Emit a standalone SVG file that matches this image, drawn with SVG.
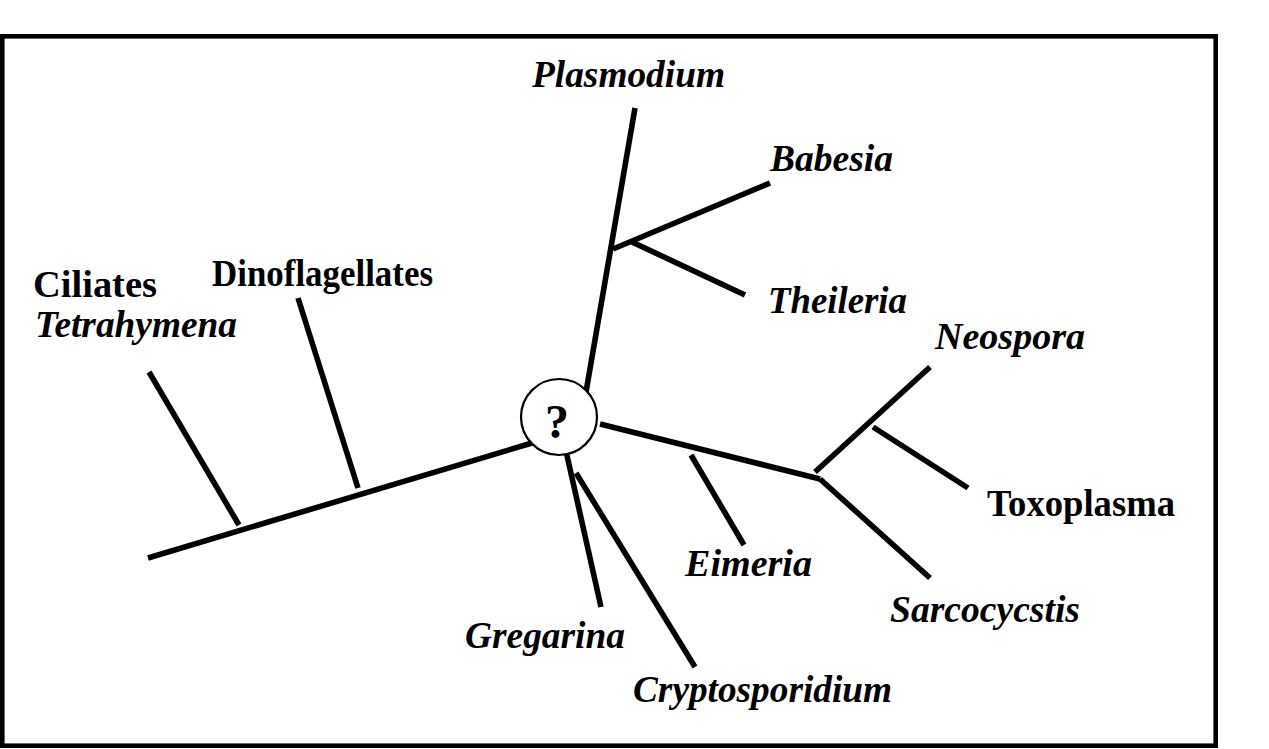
<svg xmlns="http://www.w3.org/2000/svg" width="1269" height="749" viewBox="0 0 1269 749">
<style>
.b{stroke:#000;stroke-width:5.6;fill:none;stroke-linecap:butt}
.t{font-family:"Liberation Serif","Times New Roman",serif;font-size:37px;font-weight:bold;fill:#000}
.i{font-style:italic}
.q{font-size:48px}
</style>
<rect x="0" y="0" width="1269" height="749" fill="#fff"/>
<rect id="frame" x="2.3" y="36.3" width="1213.4" height="709.4" fill="none" stroke="#000" stroke-width="4.6"/>
<g id="connectors">
<line class="b" x1="148" y1="558" x2="532" y2="443"/>
<line class="b" x1="149" y1="372" x2="239" y2="525"/>
<line class="b" x1="298" y1="298" x2="358" y2="488"/>
<line class="b" x1="635" y1="108" x2="586" y2="392"/>
<line class="b" x1="613" y1="249" x2="770" y2="183"/>
<line class="b" x1="632" y1="242" x2="745" y2="295"/>
<line class="b" x1="600" y1="424" x2="820" y2="479"/>
<line class="b" x1="691" y1="455" x2="744" y2="545"/>
<line class="b" x1="815" y1="472" x2="930" y2="367"/>
<line class="b" x1="873" y1="427" x2="968" y2="488"/>
<line class="b" x1="820" y1="479" x2="930" y2="578"/>
<line class="b" x1="566" y1="451" x2="601" y2="607"/>
<line class="b" x1="576" y1="473" x2="695" y2="667"/>
</g>
<g id="root">
<circle cx="559" cy="417" r="38" fill="#fff" stroke="#000" stroke-width="2.2"/>
<text class="t q" x="557" y="438" text-anchor="middle">?</text>
</g>
<g id="ciliates"><text class="t" x="33" y="297" textLength="124" lengthAdjust="spacingAndGlyphs">Ciliates</text>
<text class="t i" x="35" y="337" textLength="202" lengthAdjust="spacingAndGlyphs">Tetrahymena</text></g>
<g id="dinoflagellates"><text class="t" x="212" y="286" textLength="221" lengthAdjust="spacingAndGlyphs">Dinoflagellates</text></g>
<g id="plasmodium"><text class="t i" x="532" y="87" textLength="193" lengthAdjust="spacingAndGlyphs">Plasmodium</text></g>
<g id="babesia"><text class="t i" x="770" y="171" textLength="123" lengthAdjust="spacingAndGlyphs">Babesia</text></g>
<g id="theileria"><text class="t i" x="768" y="313" textLength="139" lengthAdjust="spacingAndGlyphs">Theileria</text></g>
<g id="neospora"><text class="t i" x="935" y="349" textLength="150" lengthAdjust="spacingAndGlyphs">Neospora</text></g>
<g id="toxoplasma"><text class="t" x="987" y="516" textLength="188" lengthAdjust="spacingAndGlyphs">Toxoplasma</text></g>
<g id="sarcocycstis"><text class="t i" x="890" y="622" textLength="190" lengthAdjust="spacingAndGlyphs">Sarcocycstis</text></g>
<g id="eimeria"><text class="t i" x="685" y="576" textLength="127" lengthAdjust="spacingAndGlyphs">Eimeria</text></g>
<g id="gregarina"><text class="t i" x="465" y="648" textLength="160" lengthAdjust="spacingAndGlyphs">Gregarina</text></g>
<g id="cryptosporidium"><text class="t i" x="633" y="702" textLength="259" lengthAdjust="spacingAndGlyphs">Cryptosporidium</text></g>
</svg>
